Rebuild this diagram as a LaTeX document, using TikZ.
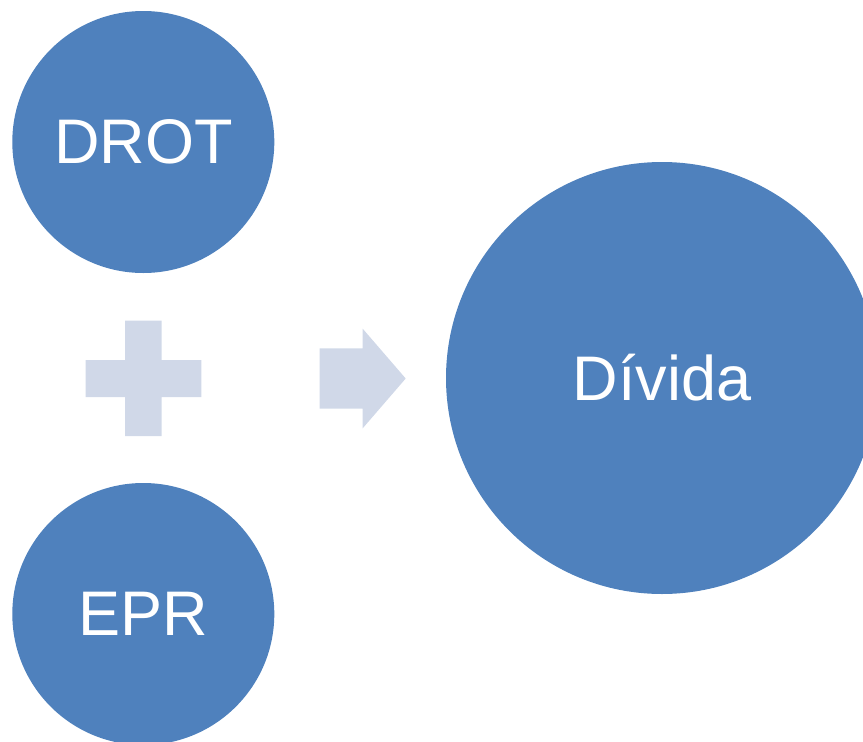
\documentclass[tikz,border=0pt]{standalone}
\usepackage{fontspec}
\setmainfont{Liberation Sans}
\definecolor{nodeblue}{HTML}{4F81BD}
\definecolor{paleblue}{HTML}{D0D8E8}
\tikzset{
  ball/.style={circle, fill=nodeblue, draw=none, inner sep=0pt, text=white, font=\fontsize{63}{63}\selectfont},
  pale/.style={fill=paleblue, draw=none}
}
\begin{document}
\begin{tikzpicture}[x=1pt, y=-1pt]
\useasboundingbox (0,0) rectangle (863,742);
\clip (0,0) rectangle (863,742);
\node[ball, minimum size=262pt] (drot) at (143.3,142) {DROT};
\node[ball, minimum size=262pt] (epr) at (143.3,614) {EPR};
\node[ball, minimum size=432pt] (divida) at (662,378) {Dívida};
% plus sign
\fill[pale] (125,320.7) -- (161.7,320.7) -- (161.7,360) -- (201.3,360) -- (201.3,397)
  -- (161.7,397) -- (161.7,436) -- (125,436) -- (125,397) -- (85.7,397) -- (85.7,360)
  -- (125,360) -- cycle;
% arrow
\fill[pale] (319.7,348.3) -- (362.7,348.3) -- (362.7,328.7) -- (405.7,378.5)
  -- (362.7,428.3) -- (362.7,408.7) -- (319.7,408.7) -- cycle;
\end{tikzpicture}
\end{document}
